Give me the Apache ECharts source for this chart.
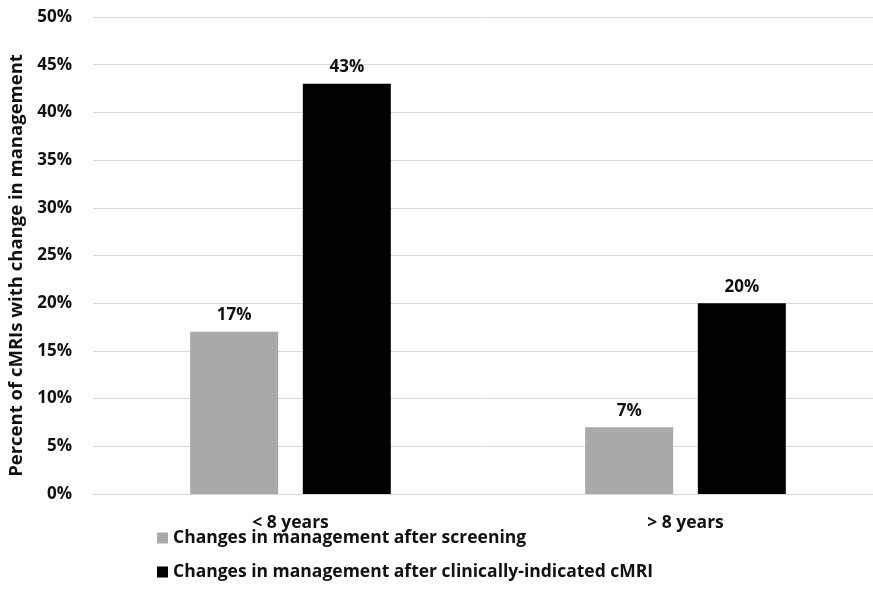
<!DOCTYPE html>
<html><head><meta charset="utf-8">
<script src="https://cdn.jsdelivr.net/npm/echarts@6/dist/echarts.min.js"></script>
<style>html,body{margin:0;padding:0;background:#fff}#c{width:873px;height:612px}</style>
</head><body><div id="c"></div>
<script>
const categories = ['< 8 years', '> 8 years'];
const seriesNames = ['Changes in management after screening', 'Changes in management after clinically-indicated cMRI'];
const screening = [17, 7];
const clinical = [43, 20];
const yAxisTitle = 'Percent of cMRIs with change in management';

const FONT = 'Open Sans';
const chart = echarts.init(document.getElementById('c'), null, {renderer: 'canvas'});
const labelCfg = {show: true, position: 'top', distance: 8, formatter: p => p.value + '%', color: '#111', fontFamily: FONT, fontWeight: 'bold', fontSize: 17};
chart.setOption({
  animation: false,
  backgroundColor: '#fff',
  grid: {left: 93, top: 17, right: -10, height: 477, containLabel: false, outerBoundsMode: 'none'},
  legend: {
    orient: 'vertical', left: 152, top: 524, itemWidth: 11, itemHeight: 11, itemGap: 16, icon: 'rect',
    textStyle: {color: '#111', fontFamily: FONT, fontWeight: 'bold', fontSize: 17.5},
    data: seriesNames
  },
  xAxis: {
    type: 'category', data: categories,
    axisLine: {show: true, lineStyle: {color: '#d9d9d9'}}, axisTick: {show: false},
    axisLabel: {color: '#111', fontFamily: FONT, fontWeight: 'bold', fontSize: 17.5, margin: 20}
  },
  yAxis: {
    type: 'value', min: 0, max: 50, interval: 5,
    name: yAxisTitle, nameLocation: 'middle', nameGap: 63, nameRotate: 90,
    nameTextStyle: {color: '#111', fontFamily: FONT, fontWeight: 'bold', fontSize: 18.5, padding: [0, 20, 0, 0]},
    axisLine: {show: false}, axisTick: {show: false},
    axisLabel: {formatter: '{value}%', color: '#111', fontFamily: FONT, fontWeight: 'bold', fontSize: 17, margin: 21},
    splitLine: {lineStyle: {color: '#d9d9d9', width: 1}}
  },
  series: [
    {name: seriesNames[0], type: 'bar', data: screening, barWidth: 88, barGap: '28%', itemStyle: {color: '#a9a9a9'}, label: labelCfg},
    {name: seriesNames[1], type: 'bar', data: clinical, barWidth: 88, itemStyle: {color: '#000'}, label: labelCfg}
  ]
});
</script></body></html>
